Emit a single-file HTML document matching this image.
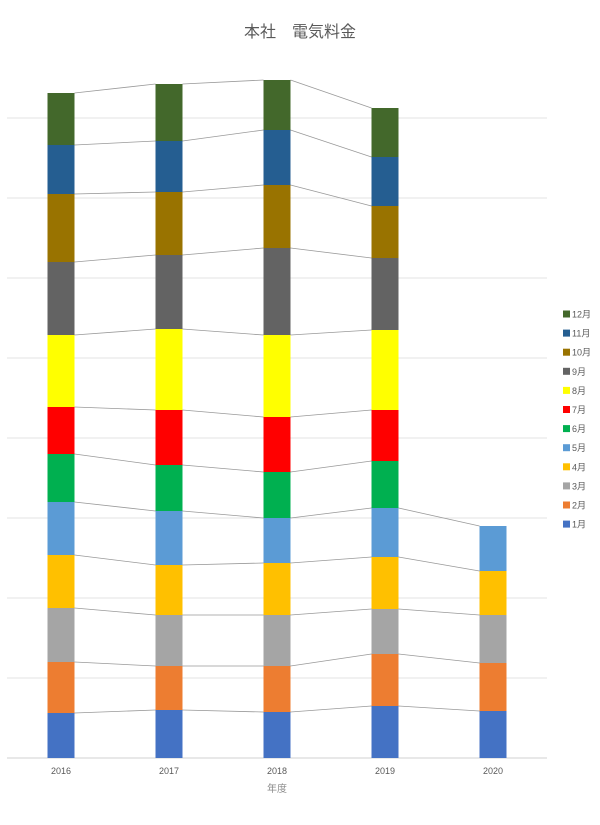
<!DOCTYPE html>
<html><head><meta charset="utf-8"><style>
body{margin:0;background:#fff;}
svg text{font-family:"Liberation Sans","Noto Sans CJK JP",sans-serif;}
</style></head><body>
<svg id="chart" width="600" height="820" xmlns="http://www.w3.org/2000/svg">
<rect width="600" height="820" fill="#fff"/>
<text x="300" y="37" text-anchor="middle" font-size="16" fill="#595959">本社　電気料金</text>
<g id="grid"></g><g id="lines"></g><g id="bars"></g><g id="xlabels"></g><g id="legend"></g>
<text x="277" y="792" text-anchor="middle" font-size="10" fill="#8c8c8c">年度</text>
</svg>
<script>
const categories = ["2016","2017","2018","2019","2020"];
const seriesNames = ["1月","2月","3月","4月","5月","6月","7月","8月","9月","10月","11月","12月"];
const seriesColors = ["#4472c4","#ed7d31","#a5a5a5","#ffc000","#5b9bd5","#00b050","#ff0000","#ffff00","#636363","#997300","#255e91","#43682b"];
const v2016 = [45,51,54,53,53,48,47,72,73,68,49,52];
const v2017 = [48,44,51,50,54,46,55,81,74,63,51,57];
const v2018 = [46,46,51,52,45,46,55,82,87,63,55,50];
const v2019 = [52,52,45,52,49,47,51,80,72,52,49,49];
const v2020 = [47,48,48,44,45];
const gridTicks = [0,80,160,240,320,400,480,560,640];

const data = [v2016,v2017,v2018,v2019,v2020];
const NS = "http://www.w3.org/2000/svg";
const plotL = 7, plotR = 547, baseY = 758, pxPerUnit = 1;
const band = (plotR - plotL) / categories.length, barW = 27;
function xC(i){ return plotL + band*(i+0.5); }
function yV(v){ return baseY - v*pxPerUnit; }
function mk(tag, attrs, parent){ const e=document.createElementNS(NS,tag); for(const k in attrs) e.setAttribute(k,attrs[k]); parent.appendChild(e); return e; }

const grid = document.getElementById('grid');
gridTicks.forEach(t=>{
  const l = mk('line',{x1:plotL,x2:plotR,y1:yV(t),y2:yV(t),stroke:t===0?'#d0d0d0':'#e3e3e3','stroke-width':1},grid);
  
  
});

// cumulative tops
const cums = data.map(arr=>{ let s=0; return arr.map(v=>(s+=v)); });

const bars = document.getElementById('bars');
data.forEach((arr,i)=>{
  let s=0;
  arr.forEach((v,j)=>{
    const r = mk('rect',{x:xC(i)-barW/2,y:yV(s+v),width:barW,height:v*pxPerUnit,fill:seriesColors[j]},bars);
    
    
    s+=v;
  });
});

const lines = document.getElementById('lines');
for(let i=0;i<categories.length-1;i++){
  for(let j=0;j<seriesNames.length;j++){
    if(j>=cums[i].length || j>=cums[i+1].length) continue;
    const l = mk('line',{x1:xC(i)+barW/2,y1:yV(cums[i][j]),x2:xC(i+1)-barW/2,y2:yV(cums[i+1][j]),stroke:'#999','stroke-width':0.8},lines);
    
    
  }
}

const xl = document.getElementById('xlabels');
categories.forEach((c,i)=>{
  const t = mk('text',{x:xC(i),y:774,'text-anchor':'middle','font-size':9,fill:'#595959'},xl);
  t.textContent=c;
  
  
});

const lg = document.getElementById('legend');
for(let k=0;k<seriesNames.length;k++){
  const j = seriesNames.length-1-k;
  const y = 314 + k*19.1;
  const g = mk('g',{},lg);
  
  
  mk('rect',{x:563,y:y-3.5,width:7,height:7,fill:seriesColors[j]},g);
  const t = mk('text',{x:572,y:y+3.5,'font-size':9,fill:'#595959'},g);
  t.textContent = seriesNames[j];
}
</script>
</body></html>
